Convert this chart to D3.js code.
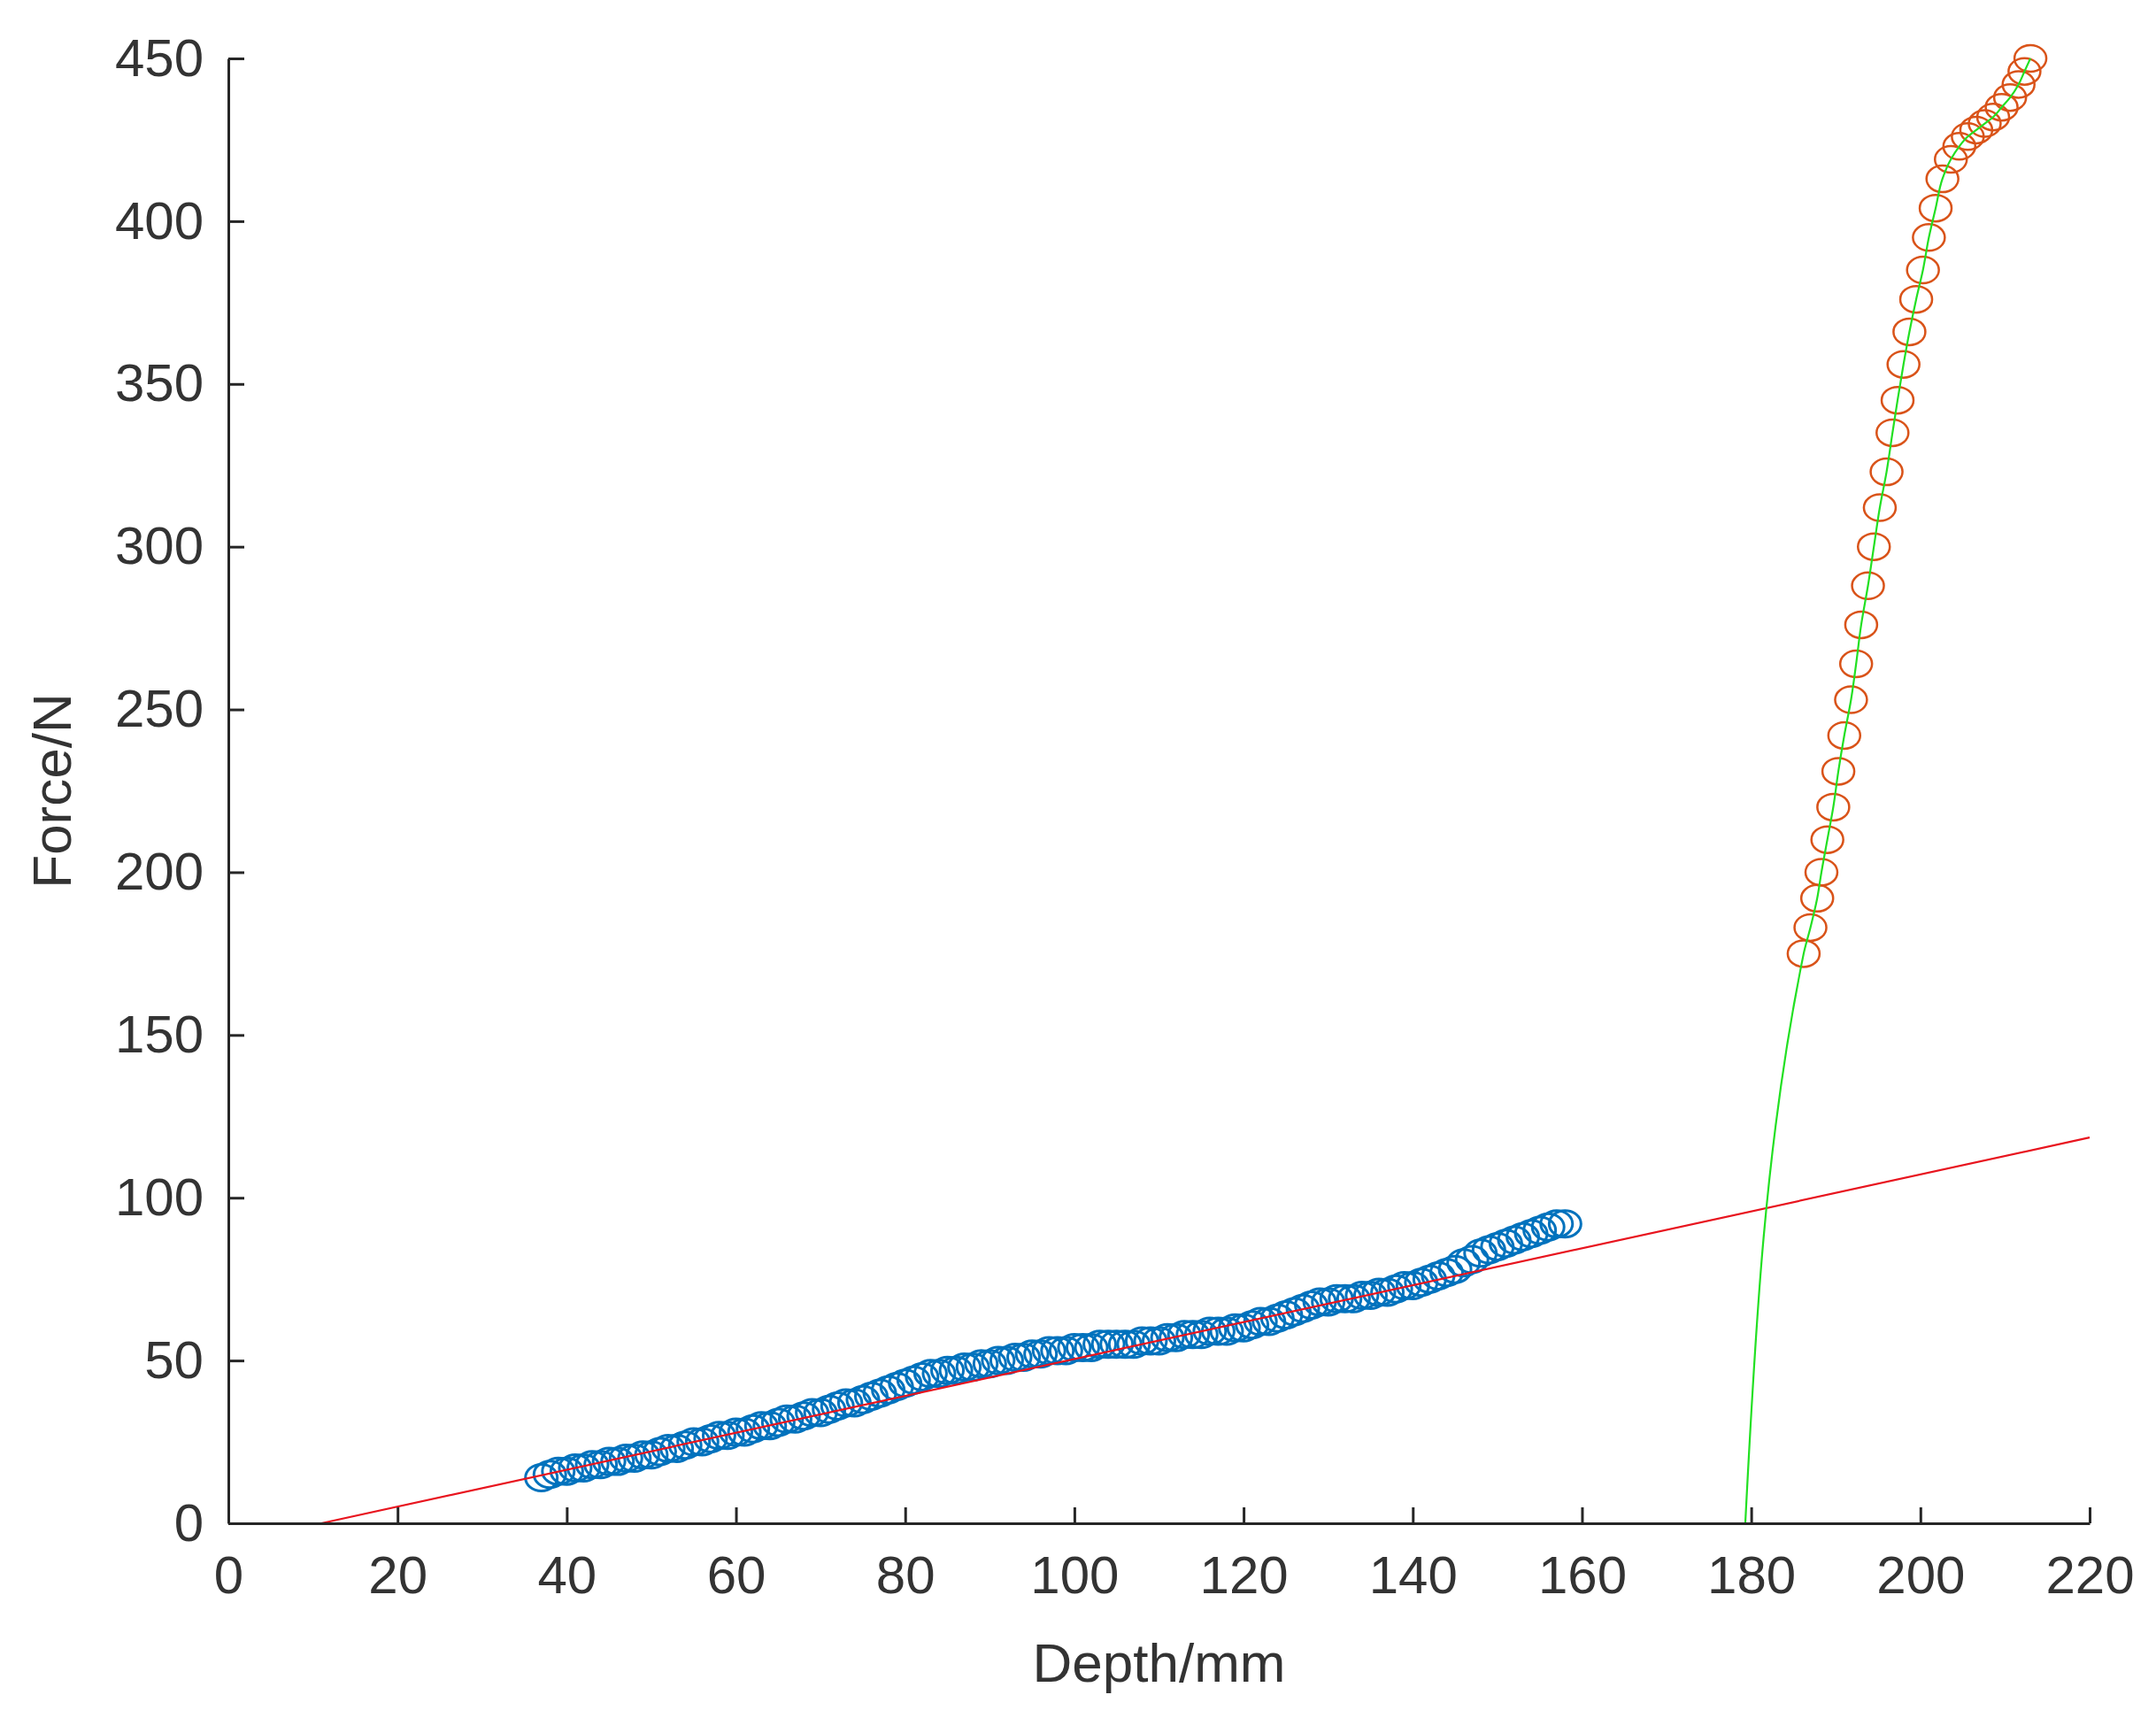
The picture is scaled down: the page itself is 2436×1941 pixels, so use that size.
<!DOCTYPE html>
<html><head><meta charset="utf-8">
<script src="https://cdn.jsdelivr.net/npm/d3@7"></script>
<style>body{margin:0;background:#fff}text{font-family:"Liberation Sans",Arial,sans-serif;fill:#262626}</style>
</head><body>
<svg id="c" width="2436" height="1941"></svg>
<script>
// blue data: depth (mm) and force (N), read every 1 mm
const blueX = d3.range(37,159,1);
const blueY = [14,15,16,16,17,17,18,18,19,19,20,20,21,21,22,23,23,24,25,25,26,27,27,28,28,29,30,30,31,32,32,33,34,34,35,36,37,37,38,39,40,41,42,43,44,45,46,46,47,47,48,48,49,49,50,50,51,51,52,52,53,53,53,54,54,54,55,55,55,55,55,56,56,56,57,57,58,58,58,59,59,59,60,60,61,62,62,63,64,65,66,67,68,68,69,69,69,70,70,71,71,72,73,73,74,75,76,77,78,80,81,83,84,85,86,87,88,89,90,91,92,92];
// orange data
const redX = [186.2,187,187.8,188.3,189,189.7,190.3,191,191.8,192.4,193,193.8,194.5,195.2,196,196.7,197.3,198,198.7,199.5,200.3,201,201.8,202.6,203.6,204.6,205.6,206.6,207.6,208.6,209.6,210.6,211.6,212.3,213];
const redY = [175,183,192,200,210,220,231,242,253,264,276,288,300,312,323,335,345,356,366,376,385,395,404,413,419,423,426,428,430,432,435,438,442,446,450];
// fitted lines
const fitRed = [[11,0],[220,118.5]];
const greenStart = [179.3,0];
const xTicks = d3.range(0,221,20);
const yTicks = d3.range(0,451,50);

const svg = d3.select("#c");
const L=258, R=2361, T=66, B=1721;
const x = d3.scaleLinear().domain([0,220]).range([L,R]);
const y = d3.scaleLinear().domain([0,450]).range([B,T]);

const line = d3.line().x(d=>x(d[0])).y(d=>y(d[1]));

const blue = blueX.map((v,i)=>[v,blueY[i]]);
const red = redX.map((v,i)=>[v,redY[i]]);

svg.append("g").selectAll("ellipse").data(blue).join("ellipse")
  .attr("cx",d=>x(d[0])).attr("cy",d=>y(d[1])).attr("rx",18).attr("ry",15)
  .attr("fill","none").attr("stroke","#0072BD").attr("stroke-width",3);
svg.append("path").attr("d",line(fitRed)).attr("stroke","#e8141e").attr("stroke-width",2.2).attr("fill","none");

svg.append("g").selectAll("ellipse").data(red).join("ellipse")
  .attr("cx",d=>x(d[0])).attr("cy",d=>y(d[1])).attr("rx",18).attr("ry",15)
  .attr("fill","none").attr("stroke","#D95319").attr("stroke-width",2.5);
svg.append("path").attr("d",d3.line().curve(d3.curveMonotoneY).x(d=>x(d[0])).y(d=>y(d[1]))([greenStart,...red]))
  .attr("stroke","#22e022").attr("stroke-width",2.2).attr("fill","none");

const xa = svg.append("g").attr("transform",`translate(0,${B})`)
  .call(d3.axisBottom(x).tickValues(xTicks).tickSizeInner(-18).tickSizeOuter(0).tickPadding(36));
const ya = svg.append("g").attr("transform",`translate(${L},0)`)
  .call(d3.axisLeft(y).tickValues(yTicks).tickSizeInner(-18).tickSizeOuter(0).tickPadding(28));
[xa,ya].forEach(a=>{
  a.selectAll("text").attr("font-size",60).style("fill","#333");
  a.selectAll("line,path").attr("stroke","#262626").attr("stroke-width",3);
});

svg.append("text").attr("x",(L+R)/2).attr("y",1900).attr("text-anchor","middle").attr("font-size",62).style("fill","#333").text("Depth/mm");
svg.append("text").attr("transform",`translate(80,${(T+B)/2}) rotate(-90)`).attr("text-anchor","middle").attr("font-size",62).style("fill","#333").text("Force/N");
</script>
</body></html>
